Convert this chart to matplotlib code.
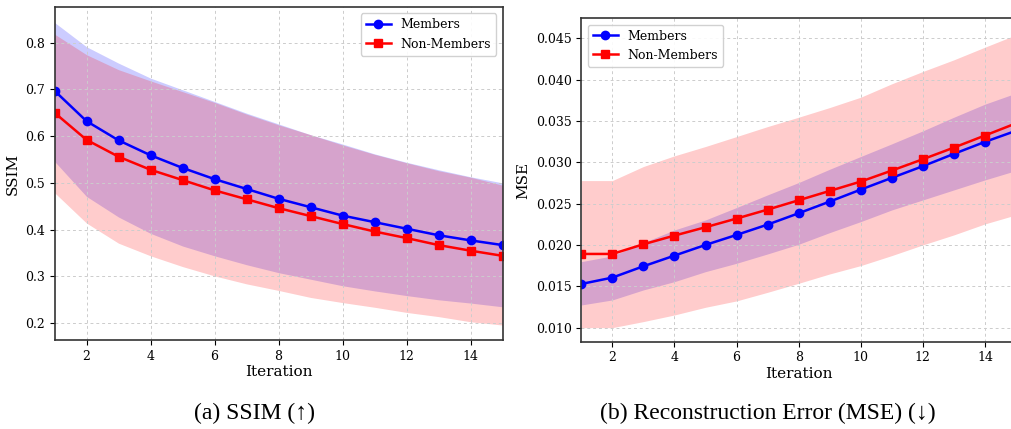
import numpy as np
import matplotlib
matplotlib.use("Agg")
import matplotlib.pyplot as plt

plt.rcParams["font.family"] = ["DejaVu Serif"]

# 迭代次数
iterations = np.arange(1, 16)

# SSIM 数据
ssim_mem = [0.697, 0.632, 0.591, 0.559, 0.532, 0.508, 0.487, 0.466, 0.448, 0.430,
            0.416, 0.402, 0.388, 0.377, 0.367]
ssim_mem_hi = [0.843, 0.791, 0.756, 0.724, 0.699, 0.674, 0.649, 0.626, 0.603, 0.583,
               0.562, 0.544, 0.528, 0.513, 0.500]
ssim_mem_lo = [0.546, 0.471, 0.427, 0.392, 0.365, 0.344, 0.325, 0.308, 0.294, 0.280,
               0.269, 0.259, 0.250, 0.243, 0.235]
ssim_non = [0.650, 0.592, 0.556, 0.528, 0.506, 0.484, 0.465, 0.446, 0.429, 0.412,
            0.396, 0.382, 0.367, 0.355, 0.344]
ssim_non_hi = [0.818, 0.774, 0.742, 0.718, 0.695, 0.672, 0.647, 0.624, 0.603, 0.581,
               0.561, 0.543, 0.526, 0.512, 0.495]
ssim_non_lo = [0.479, 0.414, 0.371, 0.344, 0.321, 0.301, 0.284, 0.270, 0.255, 0.244,
               0.234, 0.223, 0.214, 0.203, 0.196]

# MSE 数据
mse_mem = [0.01528, 0.01605, 0.01742, 0.01871, 0.0200, 0.02121, 0.02246, 0.02383,
           0.02524, 0.02669, 0.02811, 0.02952, 0.03101, 0.03246, 0.0338]
mse_mem_hi = [0.01798, 0.01867, 0.02028, 0.02181, 0.02302, 0.02452, 0.02605, 0.02754,
              0.02915, 0.03069, 0.03222, 0.03379, 0.03544, 0.03702, 0.03835]
mse_mem_lo = [0.01274, 0.01335, 0.01456, 0.01556, 0.01677, 0.01778, 0.01891, 0.02008,
              0.02149, 0.02282, 0.02423, 0.02544, 0.02665, 0.02786, 0.02899]
mse_non = [0.01891, 0.01891, 0.02008, 0.02113, 0.02214, 0.02319, 0.02427, 0.0254,
           0.02653, 0.02766, 0.02899, 0.03036, 0.03177, 0.03323, 0.0347]
mse_non_hi = [0.02778, 0.02778, 0.02948, 0.03077, 0.0319, 0.0331, 0.03431, 0.03544,
              0.03661, 0.03786, 0.03948, 0.04097, 0.04238, 0.04391, 0.0454]
mse_non_lo = [0.0100, 0.0100, 0.01073, 0.01153, 0.01246, 0.01323, 0.01427, 0.01536,
              0.01649, 0.0175, 0.01871, 0.0200, 0.02121, 0.02254, 0.02363]

W, H = 1011, 429


def px_axes(fig, left, right, top, bottom):
    return fig.add_axes([left / W, (H - bottom) / H, (right - left) / W, (bottom - top) / H])


def draw_panel(ax, mem, mem_lo, mem_hi, non, non_lo, non_hi, ylabel, legend_loc):
    ax.fill_between(iterations, mem_lo, mem_hi, color="blue", alpha=0.2, linewidth=0)
    ax.fill_between(iterations, non_lo, non_hi, color="red", alpha=0.2, linewidth=0)
    ax.plot(iterations, mem, color="blue", marker="o", markersize=6, linewidth=1.8,
            label="Members")
    ax.plot(iterations, non, color="red", marker="s", markersize=6, linewidth=1.8,
            label="Non-Members")
    ax.set_xlim(1, 15)
    ax.set_xticks([2, 4, 6, 8, 10, 12, 14])
    ax.set_xlabel("Iteration", fontsize=11, labelpad=2)
    ax.set_ylabel(ylabel, fontsize=11)
    ax.tick_params(labelsize=9)
    ax.grid(True, linestyle=(0, (3, 3)), color="#cccccc", linewidth=0.7)
    for s in ax.spines.values():
        s.set_color("#333333")
        s.set_linewidth(1.2)
    ax.legend(loc=legend_loc, fontsize=9, framealpha=0.9, edgecolor="#cccccc")


fig = plt.figure(figsize=(W / 100, H / 100), dpi=100)

# (a) SSIM
ax1 = px_axes(fig, 54.5, 502.5, 7, 340)
draw_panel(ax1, ssim_mem, ssim_mem_lo, ssim_mem_hi, ssim_non, ssim_non_lo, ssim_non_hi,
           "SSIM", "upper right")
ax1.set_ylim(0.164, 0.876)
ax1.set_yticks([0.2, 0.3, 0.4, 0.5, 0.6, 0.7, 0.8])

# (b) MSE
ax2 = px_axes(fig, 581.3, 1016, 18.3, 341.7)
draw_panel(ax2, mse_mem, mse_mem_lo, mse_mem_hi, mse_non, mse_non_lo, mse_non_hi,
           "MSE", "upper left")
ax2.set_ylim(0.0083, 0.0474)
ax2.set_yticks([0.010, 0.015, 0.020, 0.025, 0.030, 0.035, 0.040, 0.045])
ax2.yaxis.set_major_formatter(matplotlib.ticker.FormatStrFormatter("%.3f"))

# 子图标题
cap_font = ["Liberation Serif", "DejaVu Serif"]
fig.text(255 / W, 1 - 413 / H, "(a) SSIM (↑)", ha="center", va="center",
         fontsize=17, family=cap_font)
fig.text(768 / W, 1 - 413 / H, "(b) Reconstruction Error (MSE) (↓)", ha="center",
         va="center", fontsize=17, family=cap_font)

fig.savefig("out.png", dpi=100)
